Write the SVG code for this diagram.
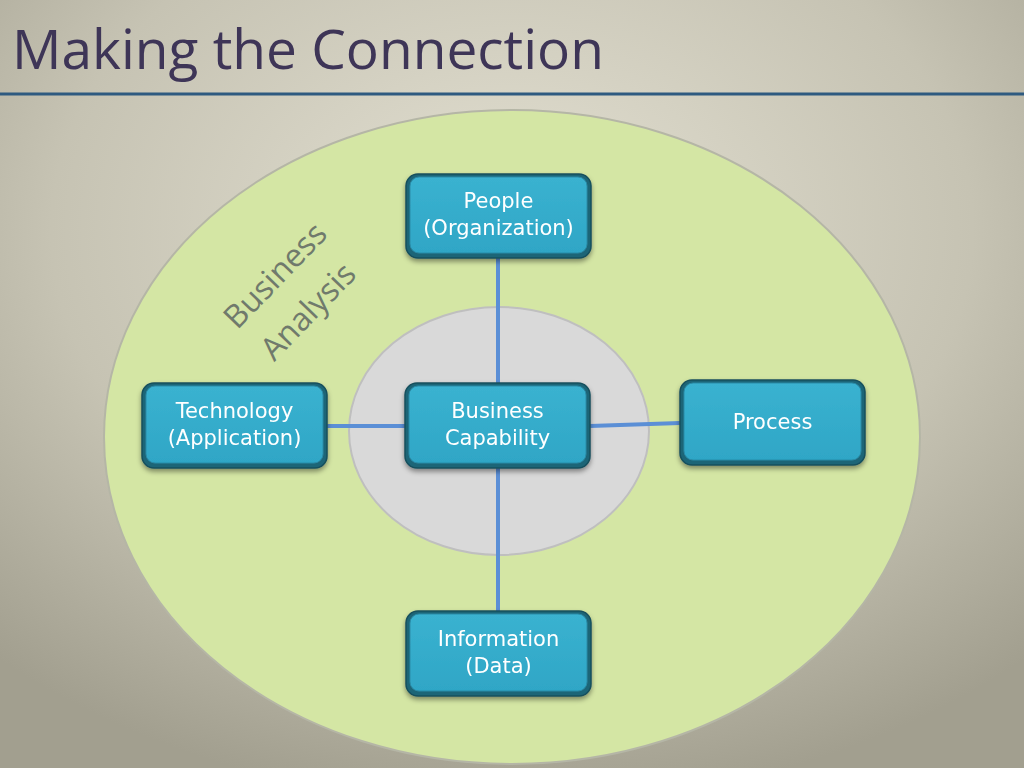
<svg xmlns="http://www.w3.org/2000/svg" width="1024" height="768" viewBox="0 0 1024 768">
<defs>
<radialGradient id="bg" cx="0.5" cy="0.3" r="0.75">
<stop offset="0" stop-color="#e3e0d2"/>
<stop offset="0.6" stop-color="#c6c3b3"/>
<stop offset="1" stop-color="#a29f8f"/>
</radialGradient>
<linearGradient id="nodeFill" x1="0" y1="0" x2="0" y2="1">
<stop offset="0" stop-color="#3ab2d0"/>
<stop offset="1" stop-color="#2fa6c6"/>
</linearGradient>
<filter id="shadow" x="-10%" y="-10%" width="120%" height="130%">
<feDropShadow dx="0" dy="3" stdDeviation="2.5" flood-color="#000" flood-opacity="0.4"/>
</filter>
<style>
.node rect.outer{fill:#1f6577;stroke:#174f5d;stroke-width:1.5;}
.node rect.inner{fill:url(#nodeFill);stroke:#2a8ca8;stroke-width:1;}
.node text{font-family:"DejaVu Sans",Verdana,sans-serif;font-size:21px;fill:#ffffff;text-anchor:middle;}
.conn{stroke:#5b8fd6;stroke-width:4;fill:none;}
</style>
</defs>
<rect x="0" y="0" width="1024" height="768" fill="url(#bg)"/>
<text x="12" y="69" font-family="'Open Sans','Liberation Sans',sans-serif" font-size="55" fill="#3e3557">Making the Connection</text>
<line x1="0" y1="94" x2="1024" y2="94" stroke="#2e5a80" stroke-width="3"/>
<ellipse id="outer-ellipse" cx="512" cy="437" rx="408" ry="327" fill="#d4e6a4" stroke="#b5b6a6" stroke-width="2"/>
<ellipse id="inner-ellipse" cx="499" cy="431" rx="150" ry="124" fill="#d9d9d9" stroke="#bfbfbf" stroke-width="2"/>
<g id="label-ba" font-family="'Open Sans','Liberation Sans',sans-serif" font-size="32" fill="#707a6c" text-anchor="middle">
<text transform="translate(283,283) rotate(-46)">Business</text>
<text transform="translate(316,319) rotate(-46)">Analysis</text>
</g>
<g id="connectors">
<line class="conn" x1="498" y1="258" x2="498" y2="383"/>
<line class="conn" x1="498" y1="468" x2="498" y2="611"/>
<line class="conn" x1="327" y1="426" x2="405" y2="426"/>
<line class="conn" x1="590" y1="426" x2="680" y2="423"/>
</g>
<g id="node-people" class="node" filter="url(#shadow)">
<rect class="outer" x="406" y="174" width="185" height="84" rx="12"/>
<rect class="inner" x="410" y="177" width="177" height="76" rx="9"/>
<text x="498.5" y="208">People</text>
<text x="498.5" y="235">(Organization)</text>
</g>
<g id="node-technology" class="node" filter="url(#shadow)">
<rect class="outer" x="142" y="383" width="185" height="85" rx="12"/>
<rect class="inner" x="146" y="386" width="177" height="77" rx="9"/>
<text x="234.5" y="418">Technology</text>
<text x="234.5" y="445">(Application)</text>
</g>
<g id="node-capability" class="node" filter="url(#shadow)">
<rect class="outer" x="405" y="383" width="185" height="85" rx="12"/>
<rect class="inner" x="409" y="386" width="177" height="77" rx="9"/>
<text x="497.5" y="418">Business</text>
<text x="497.5" y="445">Capability</text>
</g>
<g id="node-process" class="node" filter="url(#shadow)">
<rect class="outer" x="680" y="380" width="185" height="85" rx="12"/>
<rect class="inner" x="684" y="383" width="177" height="77" rx="9"/>
<text x="772.5" y="429">Process</text>
</g>
<g id="node-information" class="node" filter="url(#shadow)">
<rect class="outer" x="406" y="611" width="185" height="85" rx="12"/>
<rect class="inner" x="410" y="614" width="177" height="77" rx="9"/>
<text x="498.5" y="646">Information</text>
<text x="498.5" y="673">(Data)</text>
</g>
</svg>
